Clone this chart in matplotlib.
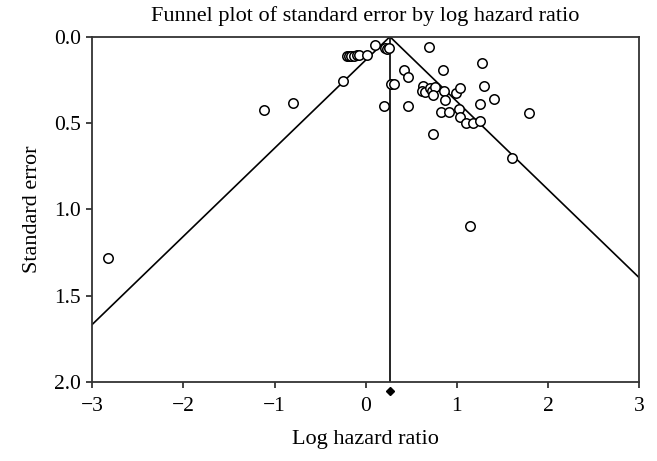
import numpy as np
import matplotlib
matplotlib.use("Agg")
from matplotlib import pyplot as plt

# study estimates
log_hr = [
    0.10, 0.21, 0.235, 0.257, 0.69,
    -0.21, -0.18, -0.16, -0.13, -0.09, -0.07, 0.01,
    -0.245, 1.28, 0.85, 0.425, 0.46, 0.28, 0.315, 1.30,
    0.63, 0.615, 0.65, 0.71, 0.725, 0.76, 0.735, 0.86, 0.87, 0.99, 1.04,
    1.41, 1.26, 0.205, 0.46, 1.79,
    0.83, 0.92, 1.02, 1.03, 1.10, 1.18, 1.26,
    0.74, 1.61, -1.12, -0.80, -2.83, 1.15,
]
std_err = [
    0.048, 0.067, 0.073, 0.067, 0.058,
    0.112, 0.110, 0.112, 0.110, 0.108, 0.108, 0.106,
    0.257, 0.154, 0.193, 0.193, 0.232, 0.274, 0.274, 0.284,
    0.284, 0.313, 0.319, 0.299, 0.313, 0.293, 0.338, 0.313, 0.367, 0.328, 0.296,
    0.363, 0.39, 0.40, 0.40, 0.44,
    0.438, 0.438, 0.419, 0.464, 0.502, 0.502, 0.489,
    0.564, 0.70, 0.425, 0.383, 1.28, 1.097,
]
pooled = 0.266
x_ticks = [-3, -2, -1, 0, 1, 2, 3]
y_ticks = [0.0, 0.5, 1.0, 1.5, 2.0]

plt.rcParams["font.family"] = ["Liberation Serif", "DejaVu Serif"]

fig = plt.figure(figsize=(6.57, 4.61), dpi=100)
ax = fig.add_axes([0.1405, 0.1714, 0.8321, 0.749])

# funnel limits (95%)
se_line = np.array([0.0, 2.0])
ax.plot(pooled - 1.96 * se_line, se_line, color="black", lw=1.2)
ax.plot(pooled + 1.96 * se_line, se_line, color="black", lw=1.2)
ax.axvline(pooled, color="black", lw=1.2)

ax.plot(log_hr, std_err, linestyle="none", marker="o", markersize=6.8,
        markerfacecolor="white", markeredgecolor="black", markeredgewidth=1.1)
ax.plot([pooled], [2.05], marker="D", markersize=4.5, color="black",
        clip_on=False, linestyle="none")

ax.set_xlim(-3, 3)
ax.set_ylim(2.0, 0.0)
ax.set_xticks(x_ticks)
ax.set_xticklabels([f"{t}".replace("-", "\u2212") for t in x_ticks])
ax.set_yticks(y_ticks)
ax.set_yticklabels([f"{t:.1f}" for t in y_ticks])
ax.tick_params(direction="out", length=4, width=1.2, labelsize=15.5, colors="#222222",
               labelcolor="black")
ax.tick_params(axis="x", pad=7)
ax.tick_params(axis="y", pad=4)
for s in ax.spines.values():
    s.set_color("#333333")
    s.set_linewidth(1.3)

ax.set_xlabel("Log hazard ratio", fontsize=16, labelpad=10)
ax.set_ylabel("Standard error", fontsize=16, labelpad=9)
ax.set_title("Funnel plot of standard error by log hazard ratio", fontsize=16, pad=11)

fig.savefig("out.png", dpi=100)
